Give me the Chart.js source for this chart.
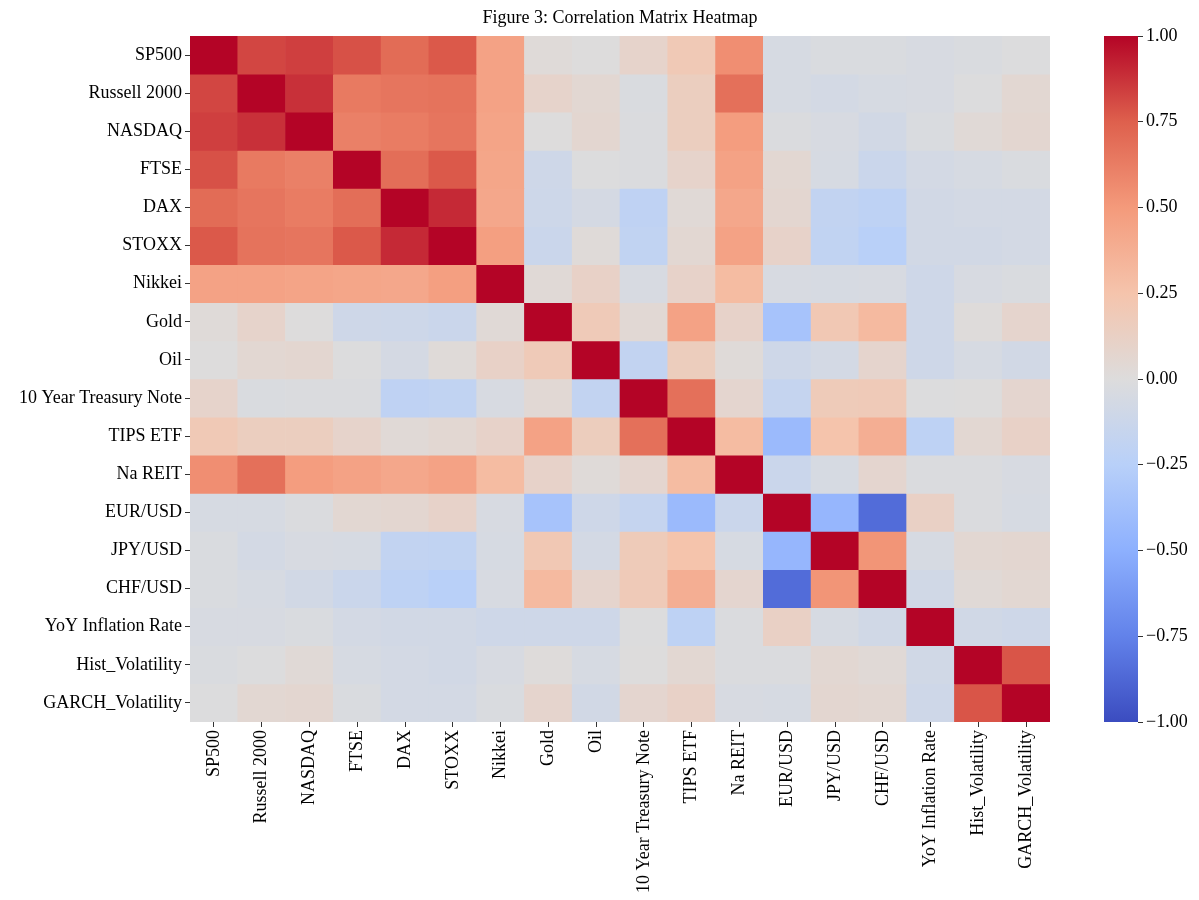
<!DOCTYPE html>
<html>
<head>
<meta charset="utf-8">
<script src="https://cdn.jsdelivr.net/npm/chart.js@4.4.1/dist/chart.umd.min.js"></script>
<style>
  html, body { margin: 0; padding: 0; background: #fff; overflow: hidden; }
  #wrap { position: relative; width: 1199px; height: 900px; }
  #heat { position: absolute; left: 0; top: 0; width: 1090px; height: 900px; }
  #cbar { position: absolute; left: 1090px; top: 0; width: 109px; height: 900px; }
</style>
</head>
<body>
<div id="wrap">
  <div id="heat"><canvas id="heatChart"></canvas></div>
  <div id="cbar"><canvas id="cbarChart"></canvas></div>
</div>
<script>
// variable names (same order on both axes)
var variables = ['SP500', 'Russell 2000', 'NASDAQ', 'FTSE', 'DAX', 'STOXX', 'Nikkei', 'Gold', 'Oil',
  '10 Year Treasury Note', 'TIPS ETF', 'Na REIT', 'EUR/USD', 'JPY/USD', 'CHF/USD',
  'YoY Inflation Rate', 'Hist_Volatility', 'GARCH_Volatility'];

// correlation rows
var sp500    = [1.00, 0.82, 0.84, 0.79, 0.70, 0.77, 0.45, 0.02, 0.00, 0.09, 0.20, 0.55, -0.05, -0.03, -0.03, -0.04, -0.03, -0.01];
var russell  = [0.82, 1.00, 0.88, 0.64, 0.66, 0.67, 0.45, 0.09, 0.05, -0.03, 0.15, 0.68, -0.05, -0.07, -0.05, -0.04, -0.01, 0.05];
var nasdaq   = [0.84, 0.88, 1.00, 0.61, 0.63, 0.66, 0.44, 0.00, 0.06, -0.02, 0.15, 0.48, -0.02, -0.04, -0.08, -0.03, 0.03, 0.06];
var ftse     = [0.79, 0.64, 0.61, 1.00, 0.69, 0.77, 0.43, -0.10, -0.01, -0.02, 0.09, 0.45, 0.05, -0.05, -0.13, -0.07, -0.05, -0.03];
var dax      = [0.70, 0.66, 0.63, 0.69, 1.00, 0.90, 0.42, -0.11, -0.06, -0.20, 0.03, 0.42, 0.06, -0.18, -0.21, -0.08, -0.07, -0.07];
var stoxx    = [0.77, 0.67, 0.66, 0.77, 0.90, 1.00, 0.47, -0.13, 0.02, -0.19, 0.05, 0.45, 0.10, -0.19, -0.24, -0.08, -0.08, -0.07];
var nikkei   = [0.45, 0.45, 0.44, 0.43, 0.42, 0.47, 1.00, 0.03, 0.11, -0.04, 0.10, 0.30, -0.04, -0.05, -0.04, -0.10, -0.04, -0.03];
var gold     = [0.02, 0.09, 0.00, -0.10, -0.11, -0.13, 0.03, 1.00, 0.19, 0.04, 0.45, 0.10, -0.35, 0.21, 0.31, -0.10, 0.01, 0.08];
var oil      = [0.00, 0.05, 0.06, -0.01, -0.06, 0.02, 0.11, 0.19, 1.00, -0.18, 0.16, 0.02, -0.10, -0.07, 0.08, -0.10, -0.05, -0.08];
var note10y  = [0.09, -0.03, -0.02, -0.02, -0.20, -0.19, -0.04, 0.04, -0.18, 1.00, 0.68, 0.07, -0.16, 0.18, 0.19, -0.01, 0.00, 0.07];
var tips     = [0.20, 0.15, 0.15, 0.09, 0.03, 0.05, 0.10, 0.45, 0.16, 0.68, 1.00, 0.30, -0.42, 0.25, 0.38, -0.21, 0.05, 0.11];
var reit     = [0.55, 0.68, 0.48, 0.45, 0.42, 0.45, 0.30, 0.10, 0.02, 0.07, 0.30, 1.00, -0.13, -0.05, 0.07, -0.02, -0.02, -0.04];
var eurusd   = [-0.05, -0.05, -0.02, 0.05, 0.06, 0.10, -0.04, -0.35, -0.10, -0.16, -0.42, -0.13, 1.00, -0.45, -0.85, 0.12, -0.02, -0.05];
var jpyusd   = [-0.03, -0.07, -0.04, -0.05, -0.18, -0.19, -0.05, 0.21, -0.07, 0.18, 0.25, -0.05, -0.45, 1.00, 0.52, -0.05, 0.05, 0.06];
var chfusd   = [-0.03, -0.05, -0.08, -0.13, -0.21, -0.24, -0.04, 0.31, 0.08, 0.19, 0.38, 0.07, -0.85, 0.52, 1.00, -0.09, 0.03, 0.05];
var inflation = [-0.04, -0.04, -0.03, -0.07, -0.08, -0.08, -0.10, -0.10, -0.10, -0.01, -0.21, -0.02, 0.12, -0.05, -0.09, 1.00, -0.09, -0.10];
var histVol  = [-0.03, -0.01, 0.03, -0.05, -0.07, -0.08, -0.04, 0.01, -0.05, 0.00, 0.05, -0.02, -0.02, 0.05, 0.03, -0.09, 1.00, 0.78];
var garchVol = [-0.01, 0.05, 0.06, -0.03, -0.07, -0.07, -0.03, 0.08, -0.08, 0.07, 0.11, -0.04, -0.05, 0.06, 0.05, -0.10, 0.78, 1.00];

var corr = [sp500, russell, nasdaq, ftse, dax, stoxx, nikkei, gold, oil, note10y, tips, reit,
  eurusd, jpyusd, chfusd, inflation, histVol, garchVol];

var cbarRange = [-1, 1];
var cbarTicks = [1, 0.75, 0.5, 0.25, 0, -0.25, -0.5, -0.75, -1];

// coolwarm colormap
var cmapStops = [
  [0.0, [59, 76, 192]],
  [0.125, [98, 130, 234]],
  [0.25, [141, 176, 254]],
  [0.375, [184, 208, 249]],
  [0.5, [221, 220, 220]],
  [0.625, [245, 196, 172]],
  [0.75, [244, 154, 123]],
  [0.875, [222, 96, 77]],
  [1.0, [180, 4, 38]]
];

function rgb(c) {
  return 'rgb(' + Math.round(c[0]) + ',' + Math.round(c[1]) + ',' + Math.round(c[2]) + ')';
}

function coolwarm(v) {
  var t = Math.min(1, Math.max(0, (v + 1) / 2));
  for (var i = 1; i < cmapStops.length; i++) {
    if (t <= cmapStops[i][0]) {
      var a = cmapStops[i - 1], b = cmapStops[i];
      var f = (t - a[0]) / (b[0] - a[0]);
      return rgb([0, 1, 2].map(function (k) { return a[1][k] + (b[1][k] - a[1][k]) * f; }));
    }
  }
  return rgb(cmapStops[cmapStops.length - 1][1]);
}

var serif = '"Liberation Serif", "Times New Roman", serif';
var labelFont = { family: serif, size: 18 };
var textColor = '#000';
var tickColor = '#333';

// one stacked dataset per row, each cell one unit tall
var datasets = corr.map(function (row, r) {
  return {
    label: variables[r],
    data: row.map(function () { return 1; }),
    backgroundColor: row.map(coolwarm),
    borderWidth: 0,
    barPercentage: 1,
    categoryPercentage: 1,
    xAxisID: 'x',
    yAxisID: 'y'
  };
});

new Chart(document.getElementById('heatChart'), {
  type: 'bar',
  data: { labels: variables, datasets: datasets },
  options: {
    responsive: true,
    maintainAspectRatio: false,
    animation: false,
    layout: { padding: { left: 10, right: 40, top: 0, bottom: 0 } },
    plugins: {
      legend: { display: false },
      tooltip: { enabled: false }
    },
    scales: {
      x: {
        stacked: true,
        offset: true,
        grid: { offset: false, drawOnChartArea: false, tickLength: 5, tickColor: tickColor },
        border: { display: false },
        ticks: { minRotation: 90, maxRotation: 90, autoSkip: false, padding: 3, color: textColor, font: labelFont },
        afterFit: function (s) { s.height = 178; }
      },
      xTitle: {
        axis: 'x',
        type: 'category',
        position: 'top',
        labels: variables,
        grid: { display: false, drawTicks: false },
        border: { display: false },
        ticks: { display: false },
        title: {
          display: true,
          text: 'Figure 3: Correlation Matrix Heatmap',
          color: textColor,
          font: labelFont,
          padding: { top: 7, bottom: 0 }
        },
        afterFit: function (s) { s.height = 36; }
      },
      y: {
        stacked: true,
        reverse: true,
        min: 0,
        max: variables.length,
        display: false
      },
      rows: {
        axis: 'y',
        type: 'category',
        position: 'left',
        labels: variables,
        offset: true,
        grid: { offset: false, drawOnChartArea: false, tickLength: 5, tickColor: tickColor },
        border: { display: false },
        ticks: { autoSkip: false, padding: 3, color: textColor, font: labelFont },
        afterFit: function (s) { s.width = 180; }
      }
    }
  }
});

// colour bar
new Chart(document.getElementById('cbarChart'), {
  type: 'bar',
  data: {
    labels: [''],
    datasets: [{
      data: [cbarRange],
      backgroundColor: function (c) {
        var ch = c.chart, area = ch.chartArea;
        if (!area) return null;
        var sy = ch.scales.y;
        var g = ch.ctx.createLinearGradient(0, sy.getPixelForValue(cbarRange[0]), 0, sy.getPixelForValue(cbarRange[1]));
        cmapStops.forEach(function (s) { g.addColorStop(s[0], rgb(s[1])); });
        return g;
      },
      borderWidth: 0,
      barPercentage: 1,
      categoryPercentage: 1
    }]
  },
  options: {
    responsive: true,
    maintainAspectRatio: false,
    animation: false,
    layout: { padding: { left: 14, right: 0, top: 36, bottom: 178 } },
    plugins: {
      legend: { display: false },
      tooltip: { enabled: false }
    },
    scales: {
      x: { display: false },
      y: {
        position: 'right',
        min: cbarRange[0],
        max: cbarRange[1],
        afterBuildTicks: function (s) {
          s.ticks = cbarTicks.map(function (v) { return { value: v }; });
        },
        grid: { drawOnChartArea: false, tickLength: 5, tickColor: tickColor },
        border: { display: false },
        ticks: {
          padding: 3,
          color: textColor,
          font: labelFont,
          callback: function (v) { return v.toFixed(2).replace('-', '\u2212'); }
        },
        afterFit: function (s) { s.width = 61; }
      }
    }
  }
});
</script>
</body>
</html>
